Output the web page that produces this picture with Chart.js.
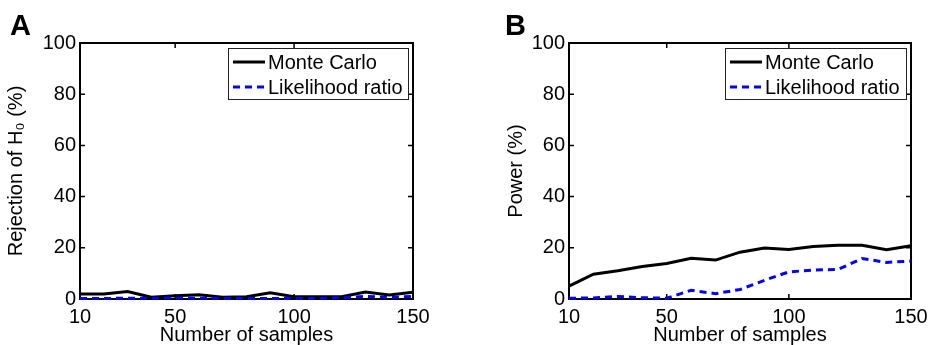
<!DOCTYPE html>
<html>
<head>
<meta charset="utf-8">
<script src="https://cdn.jsdelivr.net/npm/chart.js@4/dist/chart.umd.min.js"></script>
<style>
  html,body{margin:0;padding:0;background:#fff;}
  #wrap{position:relative;width:928px;height:345px;overflow:hidden;}
  canvas{position:absolute;top:0;}
</style>
</head>
<body>
<div id="wrap">
  <canvas id="cA" width="460" height="345" style="left:0"></canvas>
  <canvas id="cB" width="490" height="345" style="left:460px"></canvas>
</div>
<script>
// ---- data ----
const samples = [10,20,30,40,50,60,70,80,90,100,110,120,130,140,150];
const xTickValues = [10,50,100,150];
const yTickValues = [0,20,40,60,80,100];
const seriesNames = ['Monte Carlo','Likelihood ratio'];
const monteCarloA = [2.0,2.0,2.9,0.7,1.3,1.7,0.7,0.9,2.4,0.9,0.9,0.9,2.7,1.6,2.6];
const likelihoodA = [0.2,0.2,0.3,0.3,0.4,0.3,0.2,0.2,0.2,0.2,0.2,0.5,1.0,0.6,1.0];
const monteCarloB = [5.0,9.7,11.0,12.7,13.9,15.9,15.2,18.3,19.9,19.3,20.5,21.0,21.0,19.2,20.8];
const likelihoodB = [0.3,0.4,1.0,0.5,0.3,3.4,2.1,3.7,7.3,10.6,11.3,11.5,15.8,14.3,14.8];

const FONT = 'Liberation Sans, Arial, Helvetica, sans-serif';

const decorPlugin = {
  id: 'decor',
  beforeDatasetsDraw(chart, args, o) {
    const {ctx, chartArea: a, scales: {x, y}} = chart;
    ctx.save();
    ctx.strokeStyle = '#000';
    ctx.lineWidth = 2;
    ctx.strokeRect(a.left, a.top, a.right - a.left, a.bottom - a.top);
    ctx.lineWidth = 1.5;
    const L = 5;
    ctx.beginPath();
    x.ticks.forEach(t => {
      const px = x.getPixelForValue(t.value);
      ctx.moveTo(px, a.bottom); ctx.lineTo(px, a.bottom - L);
      ctx.moveTo(px, a.top); ctx.lineTo(px, a.top + L);
    });
    y.ticks.forEach(t => {
      const py = y.getPixelForValue(t.value);
      ctx.moveTo(a.left, py); ctx.lineTo(a.left + L, py);
      ctx.moveTo(a.right, py); ctx.lineTo(a.right - L, py);
    });
    ctx.stroke();
    // panel letter
    ctx.fillStyle = '#000';
    ctx.font = 'bold 29px ' + FONT;
    ctx.textBaseline = 'alphabetic';
    ctx.textAlign = 'left';
    ctx.fillText(o.letter, o.letterX, 35);
    ctx.restore();
  },
  afterDatasetsDraw(chart, args, o) {
    const {ctx, chartArea: a} = chart;
    const w = o.boxWidth, h = 51;
    const bx = a.right - 5 - w, by = a.top + 5;
    ctx.save();
    ctx.fillStyle = '#fff';
    ctx.fillRect(bx, by, w, h);
    ctx.strokeStyle = '#222';
    ctx.lineWidth = 1;
    ctx.strokeRect(bx + 0.5, by + 0.5, w, h);
    ctx.font = '20px ' + FONT;
    ctx.textBaseline = 'middle';
    ctx.textAlign = 'left';
    chart.data.datasets.forEach((ds, i) => {
      const cy = by + 14 + i * 25;
      ctx.beginPath();
      ctx.strokeStyle = ds.borderColor;
      ctx.lineWidth = ds.borderWidth;
      ctx.setLineDash(ds.borderDash || []);
      ctx.moveTo(bx + 5, cy); ctx.lineTo(bx + 37, cy);
      ctx.stroke();
      ctx.setLineDash([]);
      ctx.fillStyle = '#000';
      ctx.fillText(ds.label, bx + 40, cy + 1);
    });
    ctx.restore();
  }
};

function makeChart(id, mc, lr, yTitle, yTitlePad, yWidth, rightPad, letter, letterX, boxWidth) {
  return new Chart(document.getElementById(id), {
    type: 'line',
    data: {
      datasets: [
        {label: seriesNames[0], data: samples.map((s, i) => ({x: s, y: mc[i]})),
         borderColor: '#000000', borderWidth: 3, pointRadius: 0, tension: 0, clip: false, order: 1},
        {label: seriesNames[1], data: samples.map((s, i) => ({x: s, y: lr[i]})),
         borderColor: '#0000ff', borderWidth: 3, borderDash: [7, 5], pointRadius: 0, tension: 0, clip: false, order: 0}
      ]
    },
    options: {
      responsive: false,
      animation: false,
      devicePixelRatio: 1,
      layout: {padding: {top: 43, right: rightPad, left: 0, bottom: 0}},
      plugins: {
        legend: {display: false},
        tooltip: {enabled: false},
        decor: {letter: letter, letterX: letterX, boxWidth: boxWidth}
      },
      scales: {
        x: {
          type: 'linear', min: 10, max: 150,
          afterBuildTicks: s => { s.ticks = xTickValues.map(v => ({value: v})); },
          afterFit: s => { s.height = 46; },
          grid: {display: false, drawTicks: false},
          border: {display: false},
          ticks: {padding: 6, color: '#000', font: {family: FONT, size: 20}, maxRotation: 0, autoSkip: false},
          title: {display: true, text: 'Number of samples', color: '#000',
                  font: {family: FONT, size: 20, lineHeight: 1}, padding: {top: 0, bottom: 0}}
        },
        y: {
          type: 'linear', min: 0, max: 100,
          afterBuildTicks: s => { s.ticks = yTickValues.map(v => ({value: v})); },
          afterFit: s => { s.width = yWidth; },
          grid: {display: false, drawTicks: false},
          border: {display: false},
          ticks: {padding: 4, color: '#000', font: {family: FONT, size: 20}},
          title: {display: true, text: yTitle, color: '#000',
                  font: {family: FONT, size: 20, lineHeight: 1.2}, padding: {top: yTitlePad, bottom: 0}}
        }
      }
    },
    plugins: [decorPlugin]
  });
}

makeChart('cA', monteCarloA, likelihoodA, 'Rejection of H\u2080 (%)', 4, 80, 47, 'A', 10, 180);
makeChart('cB', monteCarloB, likelihoodB, 'Power (%)', 44, 109, 39, 'B', 45, 181);
</script>
</body>
</html>
